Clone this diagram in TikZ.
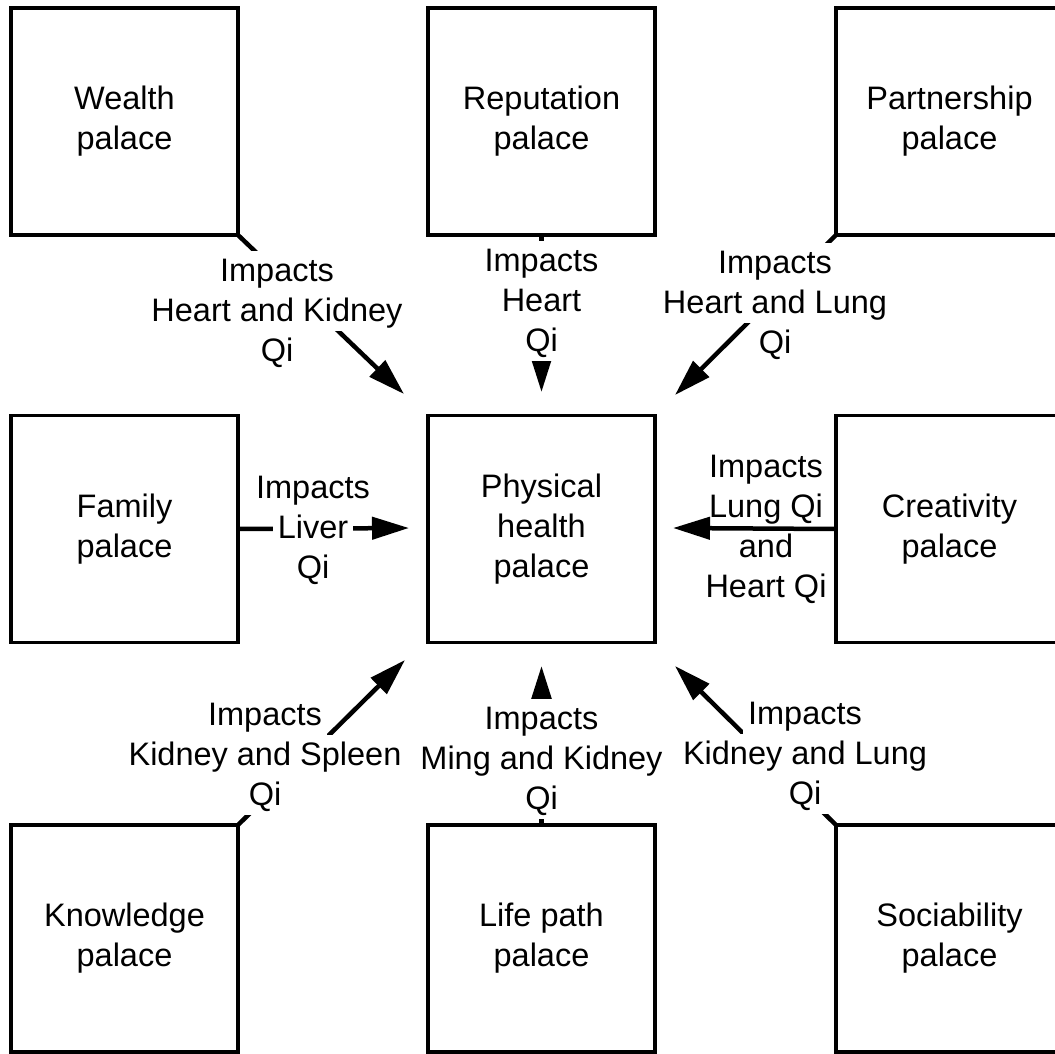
\documentclass[tikz,border=0pt]{standalone}
\usepackage{fontspec}
\setmainfont{Liberation Sans}
\usetikzlibrary{arrows.meta}
\newcommand\wl[2][5pt]{{\setlength\fboxsep{0pt}\colorbox{white}{\hspace{#1}\rule[-10pt]{0pt}{40pt}#2\hspace{#1}}}}
\begin{document}
\begin{tikzpicture}[x=1pt,y=-1pt,
  txt/.style={font=\fontsize{32.5}{40}\selectfont},
  box/.style={txt, draw, line width=3.6pt, minimum width=227pt, minimum height=227pt, outer sep=0pt, align=center},
  lab/.style={txt, inner sep=0pt, align=center},
  conn/.style={line width=4.5pt, -{Triangle[length=37pt,width=22pt]}}]
\useasboundingbox (0,0) rectangle (1055,1053);
\fill[white] (0,0) rectangle (1055,1053);
\clip (0,0) rectangle (1055,1053);
% boxes
\node[box] (wealth) at (124.5,121.5) {Wealth\\palace};
\node[box] (reput) at (541.5,121.5) {Reputation\\palace};
\node[box] (partner) at (949.5,121.5) {Partnership\\palace};
\node[box] (family) at (124.5,529) {Family\\palace};
\node[box] (phys) at (541.5,529) {Physical\\health\\palace};
\node[box] (creat) at (949.5,529) {Creativity\\palace};
\node[box] (know) at (124.5,938.5) {Knowledge\\palace};
\node[box] (life) at (541.5,938.5) {Life path\\palace};
\node[box] (socia) at (949.5,938.5) {Sociability\\palace};
% arrow tips
\coordinate (tW) at (404,394);
\coordinate (tR) at (541.5,392);
\coordinate (tP) at (675,395);
\coordinate (tF) at (409,528);
\coordinate (tC) at (673,528);
\coordinate (tK) at (405,660);
\coordinate (tL) at (541.5,666);
\coordinate (tS) at (675,666);
% connectors (under labels)
\draw[conn] (wealth.south east) -- (tW);
\draw[conn] (reput.south) -- (tR);
\draw[conn] (partner.south west) -- (tP);
\draw[conn] (family.east) -- (tF);
\draw[conn] (know.north east) -- (tK);
\draw[conn] (life.north) -- (tL);
\draw[conn] (socia.north west) -- (tS);
% labels
\node[lab] (lW) at (277,311) {\wl{Impacts}\\\wl{Heart and Kidney}\\\wl{Qi}};
\node[lab] (lR) at (541.5,301) {\wl{Impacts}\\\wl{Heart}\\\wl{Qi}};
\node[lab] (lP) at (775,303) {\wl{Impacts}\\\wl{Heart and Lung}\\\wl{Qi}};
\node[lab] (lF) at (313,528) {\wl{Impacts}\\\wl{Liver}\\\wl{Qi}};
\node[lab] (lC) at (766,527) {\wl{Impacts}\\\wl{Lung Qi}\\\wl{and}\\\wl{Heart Qi}};
\node[lab] (lK) at (265,755) {\wl{Impacts}\\\wl{Kidney and Spleen}\\\wl[16pt]{Qi}};
\node[lab] (lL) at (541.5,759) {\wl{Impacts}\\\wl{Ming and Kidney}\\\wl{Qi}};
\node[lab] (lS) at (805,754) {\wl{Impacts}\\\wl{Kidney and Lung}\\\wl[16pt]{Qi}};
% creativity arrow passes over its label
\draw[conn] (creat.west) -- (tC);
\end{tikzpicture}
\end{document}
